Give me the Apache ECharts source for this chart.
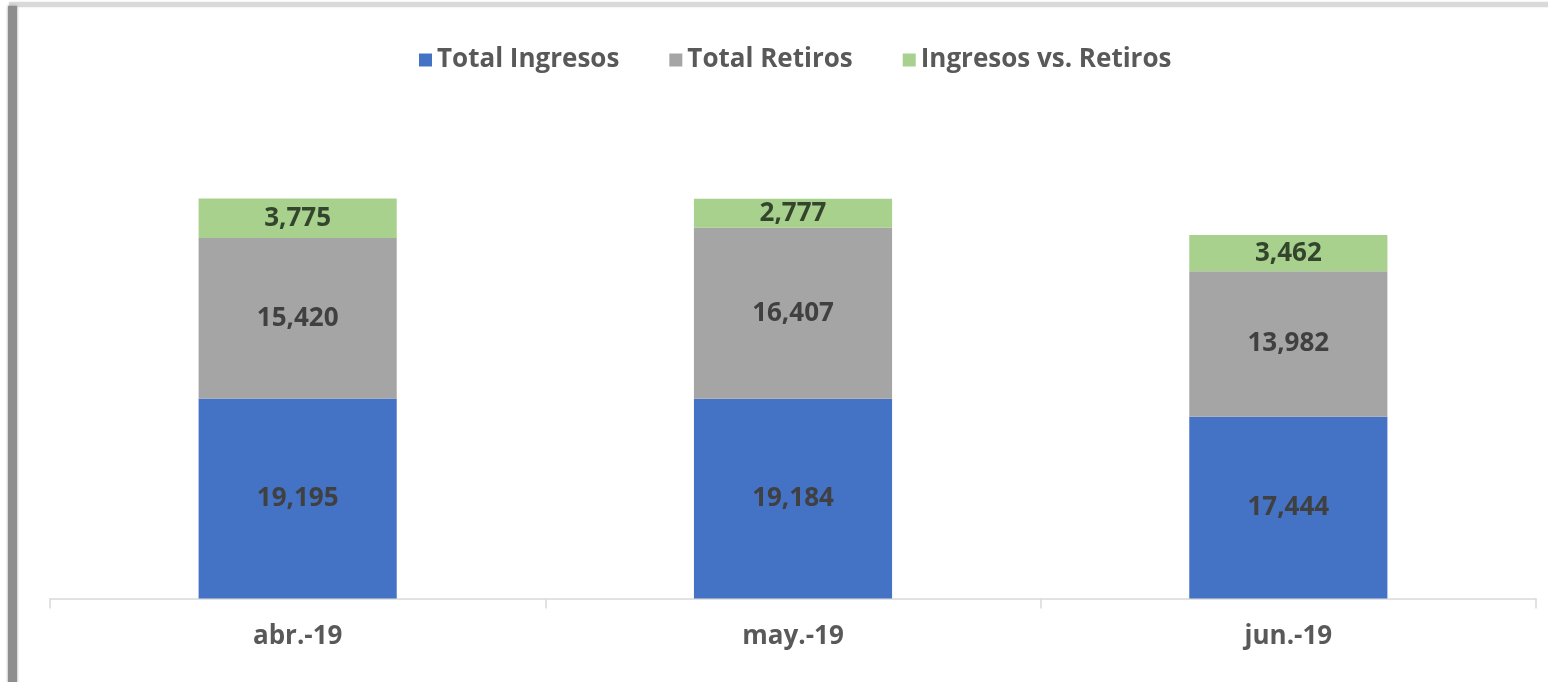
<!DOCTYPE html>
<html>
<head>
<meta charset="utf-8">
<script src="https://cdn.jsdelivr.net/npm/echarts@6/dist/echarts.min.js"></script>
<style>html,body{margin:0;padding:0;background:#fff;}#c{width:1548px;height:682px;}</style>
</head>
<body>
<div id="c"></div>
<script>
const categories = ['abr.-19', 'may.-19', 'jun.-19'];
const totalIngresos = [19195, 19184, 17444];
const totalRetiros = [15420, 16407, 13982];
const ingresosVsRetiros = [3775, 2777, 3462];
const seriesNames = ['Total Ingresos', 'Total Retiros', 'Ingresos vs. Retiros'];

const chart = echarts.init(document.getElementById('c'));
const fmt = p => p.value.toLocaleString('en-US');
const FONT = '"Open Sans", "Noto Sans", sans-serif';
function lbl(color) {
  return { show: true, position: 'inside', formatter: fmt, color: color, fontFamily: FONT, fontWeight: 'bold', fontSize: 26 };
}
chart.setOption({
  animation: false,
  backgroundColor: '#fff',
  graphic: [
    { type: 'rect', shape: { x: 8, y: 6, width: 9, height: 700 }, style: { fill: '#8e8e8e', shadowBlur: 3, shadowColor: 'rgba(0,0,0,0.4)' }, z: 100 },
    { type: 'rect', shape: { x: 9, y: 2, width: 1600, height: 5 }, style: { fill: '#d9d9d9', shadowBlur: 2, shadowColor: 'rgba(0,0,0,0.15)' }, z: 99 }
  ],
  legend: {
    top: 42, left: 414,
    itemWidth: 13, itemHeight: 13, itemGap: 50,
    icon: 'rect',
    textStyle: { color: '#595959', fontFamily: FONT, fontSize: 26, fontWeight: 'bold' },
    data: seriesNames
  },
  grid: { left: 50, right: 12, top: 98.5, bottom: 83.5 },
  xAxis: {
    type: 'category', data: categories,
    axisLine: { lineStyle: { color: '#d9d9d9', width: 1.5 } },
    axisTick: { show: true, length: 10, lineStyle: { color: '#d9d9d9', width: 1.5 } },
    axisLabel: { color: '#595959', fontFamily: FONT, fontSize: 26, fontWeight: 'bold', margin: 25 }
  },
  yAxis: { type: 'value', min: 0, max: 48000, show: false, splitLine: { show: false } },
  series: [
    { name: seriesNames[0], type: 'bar', stack: 't', data: totalIngresos, barCategoryGap: '60%', itemStyle: { color: '#4472C4' }, label: lbl('#404040') },
    { name: seriesNames[1], type: 'bar', stack: 't', data: totalRetiros, itemStyle: { color: '#A5A5A5' }, label: lbl('#404040') },
    { name: seriesNames[2], type: 'bar', stack: 't', data: ingresosVsRetiros, itemStyle: { color: '#A9D18E' }, label: lbl('#34452e') }
  ]
});
</script>
</body>
</html>
